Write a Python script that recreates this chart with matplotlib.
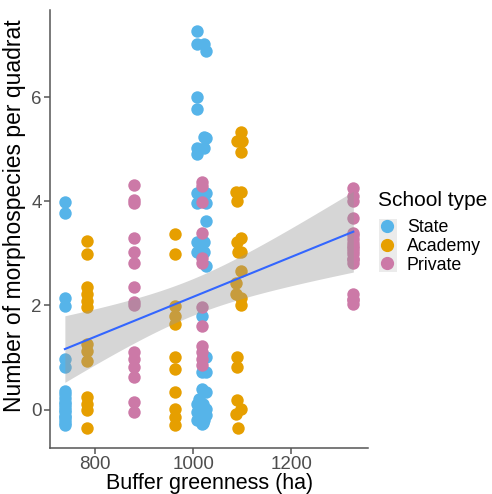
import numpy as np
import matplotlib
matplotlib.use("Agg")
import matplotlib.pyplot as plt
from matplotlib.patches import Rectangle
from matplotlib.lines import Line2D

plt.rcParams['font.family'] = ['Liberation Sans', 'DejaVu Sans']

# points (already jittered); dense stacks hide extra points
state_x = [738, 738, 738, 738, 738, 738, 738, 738, 738, 738, 738, 738, 738,
           738, 738, 738, 738, 738, 738,
           1007, 1007, 1023, 1027, 1007, 1007, 1023, 1027, 1007, 1023, 1007,
           1007, 1027, 1007, 1027, 1027, 1007, 1023, 1007, 1023, 1027,
           1017, 1027, 1017, 1027, 1017, 1027, 1007, 1027, 1007, 1027, 1007,
           1023, 1017,
           1012, 1020, 1012, 1020, 1012, 1020, 1016, 1016]
state_y = [3.98, 3.78, 2.14, 1.99, 0.98, 0.82, 0.35, 0.22, 0.1, 0.0, -0.12, -0.2, -0.3,
           0.3, 0.15, 0.05, -0.05, -0.15, -0.25,
           7.28, 7.02, 7.02, 6.89, 6.0, 5.77, 5.24, 5.21, 5.02, 5.02, 4.91,
           4.16, 4.16, 3.97, 3.97, 3.63, 3.21, 3.21, 3.02, 3.02, 2.75,
           1.8, 1.01, 0.72, 0.72, 0.4, 0.34, 0.11, 0.02, -0.04, -0.11, -0.2,
           -0.2, -0.27,
           0.2, 0.1, 0.0, -0.1, -0.2, -0.25, 0.05, -0.15]

academy_x = [783, 783, 783, 783, 783, 783, 783, 783, 783, 783, 783, 783, 783,
             962, 962, 962, 962, 962, 962, 962, 962, 962, 962, 962,
             1098, 1090, 1100, 1098, 1088, 1098, 1090, 1098, 1090, 1092, 1098,
             1098, 1088, 1088, 1098, 1090, 1090, 1090, 1098, 1088, 1092, 1098]
academy_y = [3.24, 2.98, 2.35, 2.22, 2.09, 1.98, 1.26, 1.13, 0.94, 0.24, 0.11, -0.01, -0.36,
             3.37, 2.98, 1.99, 1.8, 1.64, 1.01, 0.78, 0.34, 0.02, -0.14, -0.3,
             5.34, 5.17, 5.17, 4.94, 4.19, 4.19, 4.0, 3.3, 3.21, 3.02, 3.02,
             2.66, 2.44, 2.22, 2.15, 1.01, 0.82, 0.18, 0.02, -0.08, -0.36, 2.0]

private_x = [879, 879, 879, 879, 879, 879, 879, 879, 879, 879, 879, 879, 879, 879, 879,
             1017, 1017, 1017, 1017, 1017, 1017, 1017, 1017, 1017, 1017, 1017, 1017,
             1327, 1327, 1327, 1327, 1327, 1327, 1327, 1327, 1327, 1327, 1327,
             1327, 1327, 1327, 1327, 1327, 1327, 1327, 1327]
private_y = [4.32, 4.03, 3.97, 3.3, 3.02, 2.82, 2.35, 2.06, 2.0, 1.1, 0.98, 0.82, 0.63, 0.15, -0.04,
             4.38, 4.29, 3.98, 3.4, 2.92, 2.82, 1.98, 1.6, 1.23, 1.1, 0.98, 0.85,
             4.26, 4.1, 4.0, 3.68, 3.4, 3.27, 3.14, 2.98, 2.82, 2.22, 2.03,
             3.2, 3.05, 2.9, 3.35, 2.12, 2.1, 2.9, 3.1]

groups = ["State", "Academy", "Private"]
colors = ["#56B4E9", "#E69F00", "#CC79A7"]

fig = plt.figure(figsize=(4.92, 4.94), dpi=100)
ax = fig.add_axes([0.102, 0.093, 0.646, 0.887])

for gx, gy, c in zip([state_x, academy_x, private_x], [state_y, academy_y, private_y], colors):
    ax.scatter(gx, gy, s=80, color=c, linewidths=0, zorder=2)

# linear fit with confidence band
allx = np.array(state_x + academy_x + private_x, dtype=float)
ally = np.array(state_y + academy_y + private_y, dtype=float)
b, a = np.polyfit(allx, ally, 1)
n = len(allx)
resid = ally - (a + b * allx)
s = np.sqrt(np.sum(resid ** 2) / (n - 2))
sxx = np.sum((allx - allx.mean()) ** 2)
xs = np.linspace(allx.min(), allx.max(), 100)
fit = a + b * xs
se = s * np.sqrt(1 / n + (xs - allx.mean()) ** 2 / sxx)
tval = 2.45
ax.fill_between(xs, fit - tval * se, fit + tval * se, color="#999999", alpha=0.4, linewidth=0, zorder=3)
ax.plot(xs, fit, color="#3366FF", lw=1.5, zorder=4)

ax.set_xlim(708, 1357)
ax.set_ylim(-0.74, 7.68)
ax.set_xticks([800, 1000, 1200])
ax.set_yticks([0, 2, 4, 6])
for sp in ["top", "right"]:
    ax.spines[sp].set_visible(False)
for sp in ["left", "bottom"]:
    ax.spines[sp].set_color("#555555")
    ax.spines[sp].set_linewidth(1.1)
ax.tick_params(colors="#555555", labelcolor="#4D4D4D", labelsize=13.5, length=4, width=1.1, pad=2)
ax.set_xlabel("Buffer greenness (ha)", fontsize=15.5, labelpad=0)
ax.set_ylabel("Number of morphospecies per quadrat", fontsize=16.5)
ax.yaxis.set_label_coords(-0.075, 0.53)

# legend
fig.text(378 / 492, 1 - 200 / 494, "School type", fontsize=15, va="center", ha="left")
fig.add_artist(Rectangle((379 / 492, 1 - 272 / 494), 18 / 492, 53 / 494,
                         transform=fig.transFigure, color="#EBEBEB", lw=0))
handles = [Line2D([], [], marker="o", ls="", color=c, markersize=8.5) for c in colors]
leg = fig.legend(handles, groups, loc="upper left",
                 bbox_to_anchor=(381 / 492, 1 - 219 / 494), frameon=False,
                 fontsize=12.8, handlelength=0.7, handletextpad=0.75,
                 labelspacing=0.1, borderaxespad=0, borderpad=0)

fig.savefig("out.png", dpi=100)
